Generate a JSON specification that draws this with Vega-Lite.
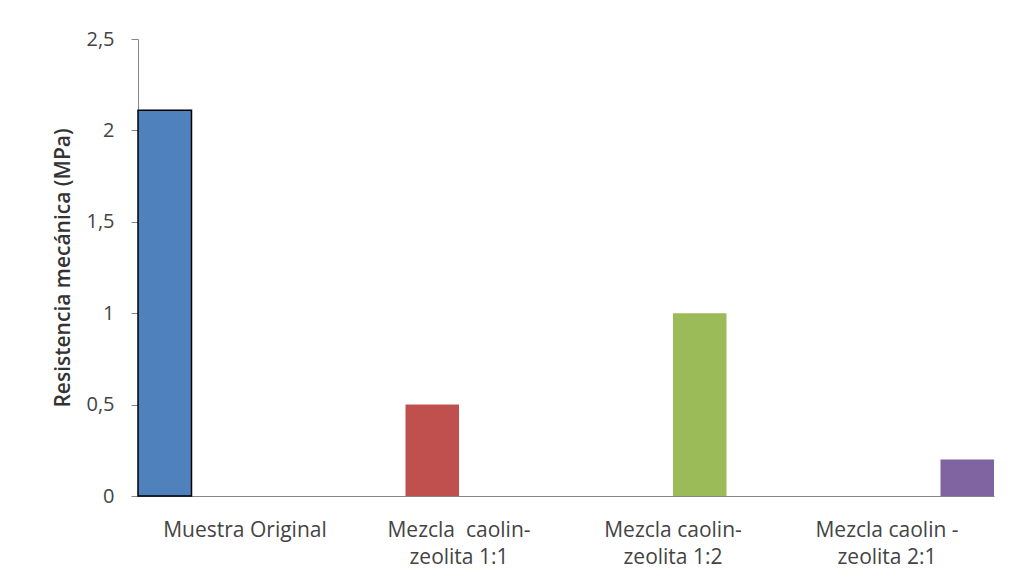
{
  "$schema": "https://vega.github.io/schema/vega-lite/v6.json",
  "width": 856,
  "height": 457,
  "autosize": "none",
  "padding": {"left": 138, "top": 39, "right": 16, "bottom": 90},
  "background": "white",
  "data": {
    "values": [
      {"muestra": "Muestra Original", "resistencia": 2.11},
      {"muestra": "Mezcla\u00a0 caolin-\nzeolita 1:1", "resistencia": 0.5},
      {"muestra": "Mezcla caolin-\nzeolita 1:2", "resistencia": 1.0},
      {"muestra": "Mezcla caolin -\nzeolita 2:1", "resistencia": 0.2}
    ]
  },
  "mark": {"type": "bar", "strokeWidth": 1.5},
  "encoding": {
    "x": {
      "field": "muestra",
      "type": "nominal",
      "sort": null,
      "scale": {"paddingInner": 0, "paddingOuter": 0},
      "axis": {
        "title": null,
        "labelAngle": 0,
        "labelExpr": "split(datum.value, '\\n')",
        "labelFont": "Open Sans",
        "labelFontSize": 21,
        "labelColor": "#444444",
        "labelLineHeight": 27,
        "labelPadding": 34,
        "ticks": false,
        "domainColor": "#868686",
        "domainWidth": 1,
        "labelBaseline": "middle"
      }
    },
    "xOffset": {
      "field": "muestra",
      "type": "nominal",
      "sort": null,
      "scale": {"paddingInner": 0, "paddingOuter": 0}
    },
    "y": {
      "field": "resistencia",
      "type": "quantitative",
      "scale": {"domain": [0, 2.5], "nice": false},
      "axis": {
        "title": "Resistencia mecánica (MPa)",
        "titleFont": "Open Sans",
        "titleFontSize": 21,
        "titleFontWeight": 600,
        "titleColor": "#333333",
        "titlePadding": 12,
        "values": [0, 0.5, 1, 1.5, 2, 2.5],
        "labelExpr": "replace(toString(datum.value), '.', ',')",
        "labelFont": "Open Sans",
        "labelFontSize": 20,
        "labelColor": "#444444",
        "labelPadding": 17,
        "tickSize": 7,
        "tickColor": "#868686",
        "domainColor": "#868686",
        "grid": false
      }
    },
    "color": {
      "field": "muestra",
      "type": "nominal",
      "sort": null,
      "scale": {"range": ["#4F81BD", "#C0504D", "#9BBB59", "#8064A2"]},
      "legend": null
    },
    "stroke": {
      "condition": {"test": "datum.muestra == 'Muestra Original'", "value": "#000000"},
      "value": "transparent"
    }
  },
  "config": {"view": {"stroke": null}}
}
